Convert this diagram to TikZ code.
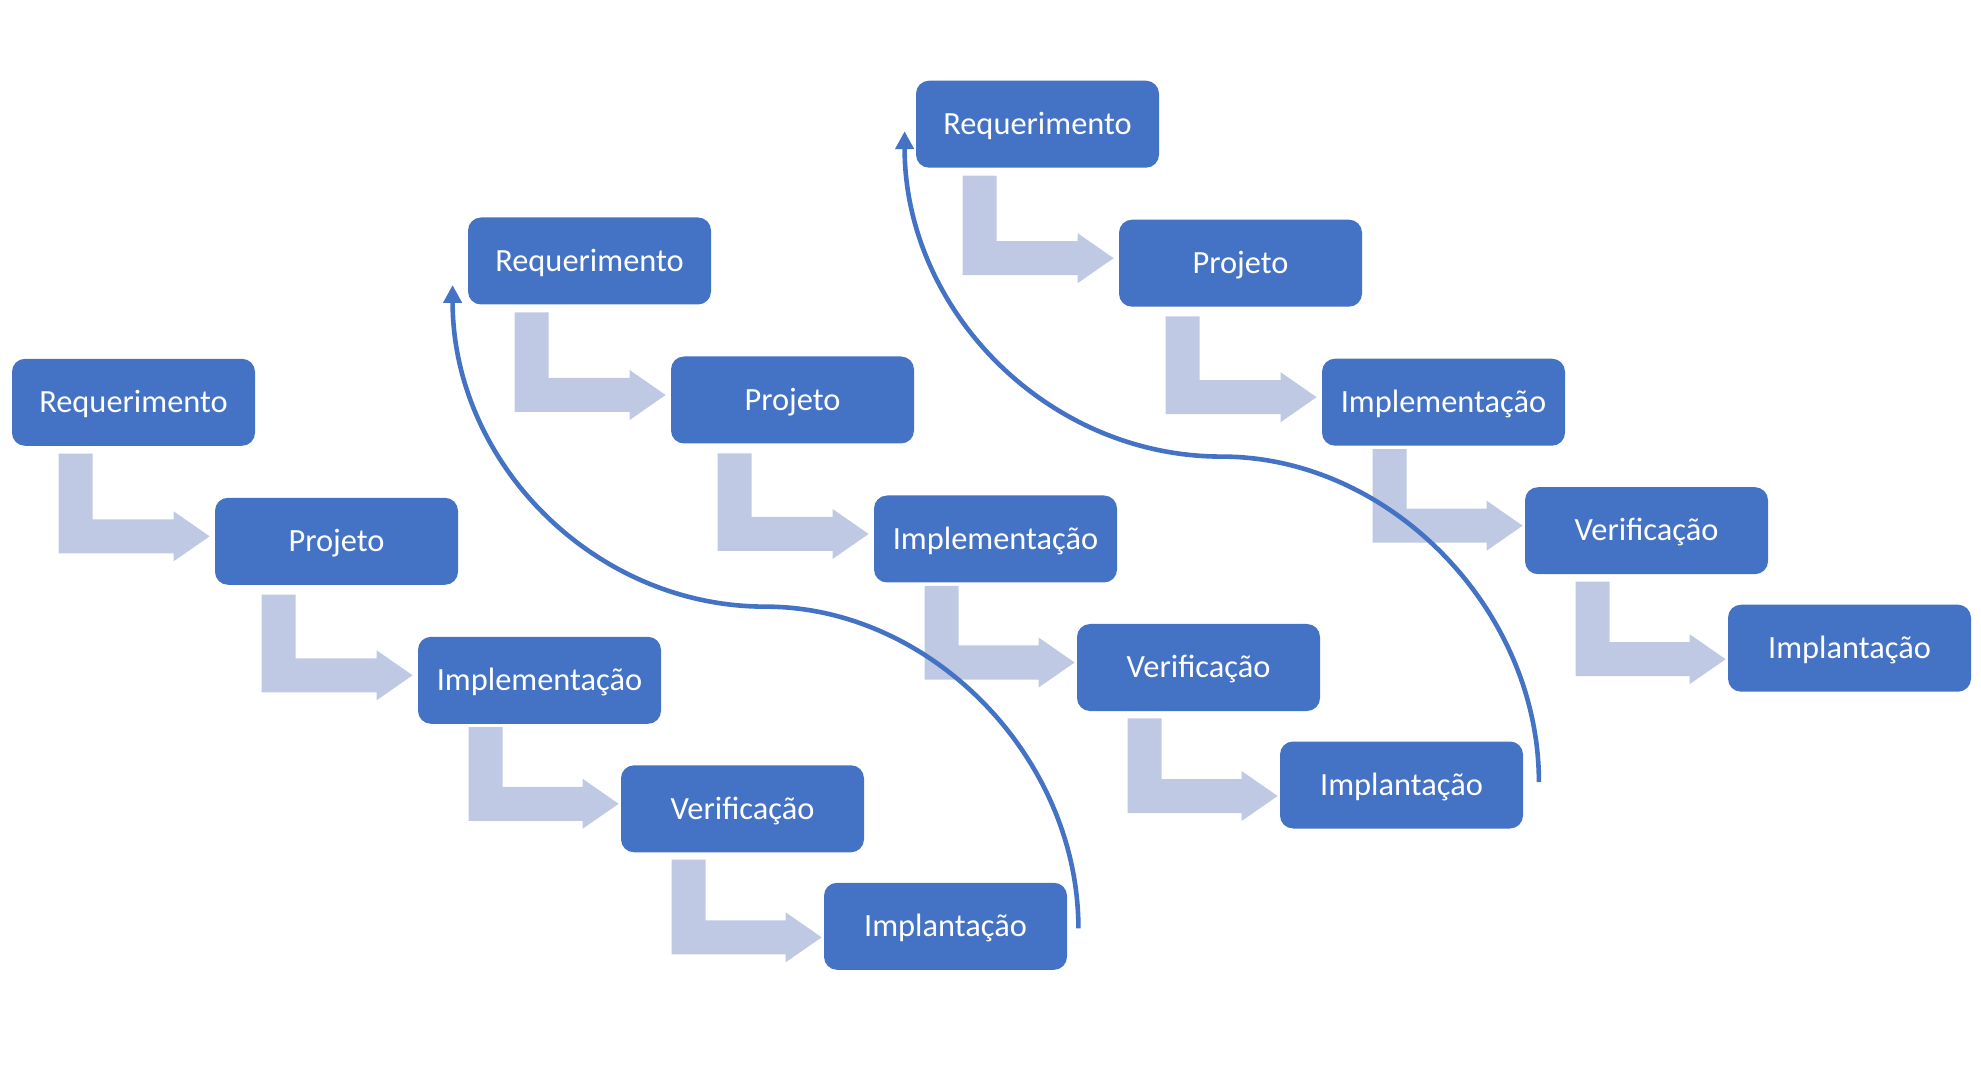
\documentclass[tikz,border=0pt]{standalone}
\usepackage{fontspec}
\setmainfont{Carlito}
\usetikzlibrary{calc,arrows.meta}
\definecolor{boxblue}{HTML}{4472C4}
\definecolor{lightblue}{HTML}{BFC9E3}
% #1 prev node, #2 next node, #3 stem offset, #4 gap, #5 tip offset, #6 bar offset (canvas)
\newcommand{\bentarr}[6]{%
  \fill[bent] let \p1=(#1.south west), \p2=(#2.west) in
    (\x1+#3, \y1-#4) -- (\x1+#3+17pt, \y1-#4) -- (\x1+#3+17pt, \y2#6+8.5pt)
    -- (\x2#5-18pt, \y2#6+8.5pt) -- (\x2#5-18pt, \y2#6+12.5pt) -- (\x2#5, \y2#6)
    -- (\x2#5-18pt, \y2#6-12.5pt) -- (\x2#5-18pt, \y2#6-8.5pt)
    -- (\x1+#3, \y2#6-8.5pt) -- cycle;}
\newcommand{\loopcurve}[2]{%
  \draw[loopline] let \p1=(#1), \p2=(#2), \p3=($(#1)!0.5!(#2)$) in
    (\p1) .. controls (\x1, \y1+0.53*\y3-0.53*\y1) and (\x3+0.53*\x1-0.53*\x3, \y3) .. (\p3)
    .. controls (\x3-0.55*\x3+0.55*\x2, \y3) and (\x2, \y2-0.55*\y2+0.55*\y3) .. (\p2);}
\begin{document}
\begin{tikzpicture}[x=0.5pt,y=-0.5pt,
  stage/.style={fill=boxblue, rounded corners=6.5pt, minimum width=121.5pt,
    minimum height=43.5pt, text=white, font=\fontsize{16.2pt}{19pt}\selectfont,
    text height=10.3pt, text depth=0pt, inner sep=0pt},
  bent/.style={fill=lightblue},
  loopline/.style={draw=boxblue, line width=2.3pt, -{Triangle[length=9pt,width=9pt]}}
]
\useasboundingbox (0,0) rectangle (1981,1074);

% chain 1
\node[stage] (r1) at (133.5,402.3) {Requerimento};
\node[stage] (p1) at (336.5,541.3) {Projeto};
\node[stage] (i1) at (539.5,680.3) {Implementação};
\node[stage] (v1) at (742.5,808.8) {Verificação};
\node[stage] (m1) at (945.5,926.3) {Implantação};
% chain 2
\node[stage] (r2) at (589.5,261) {Requerimento};
\node[stage] (p2) at (792.5,400) {Projeto};
\node[stage] (i2) at (995.5,539) {Implementação};
\node[stage] (v2) at (1198.5,667.5) {Verificação};
\node[stage] (m2) at (1401.5,785) {Implantação};
% chain 3
\node[stage] (r3) at (1037.5,124.2) {Requerimento};
\node[stage] (p3) at (1240.5,263.2) {Projeto};
\node[stage] (i3) at (1443.5,402.2) {Implementação};
\node[stage] (v3) at (1646.5,530.7) {Verificação};
\node[stage] (m3) at (1849.5,648.2) {Implantação};

\foreach \c in {1,2,3}{
  \bentarr{r\c}{p\c}{23.5pt}{3.75pt}{-2.5pt}{+2.5pt}
  \bentarr{p\c}{i\c}{23.5pt}{4.7pt}{-2.5pt}{+2.5pt}
  \bentarr{i\c}{v\c}{25.5pt}{1.5pt}{-1pt}{+2.5pt}
  \bentarr{v\c}{m\c}{25.5pt}{3.5pt}{-1pt}{-5.5pt}
}

\coordinate (c1s) at ($(m1.east)+(11,2)$);
\coordinate (c1e) at ($(r2.west)+(-15,24)$);
\coordinate (c3s) at ($(m2.east)+(15.5,-3)$);
\coordinate (c3e) at ($(r3.west)+(-11,7)$);
\loopcurve{c1s}{c1e}
\loopcurve{c3s}{c3e}
\end{tikzpicture}
\end{document}
